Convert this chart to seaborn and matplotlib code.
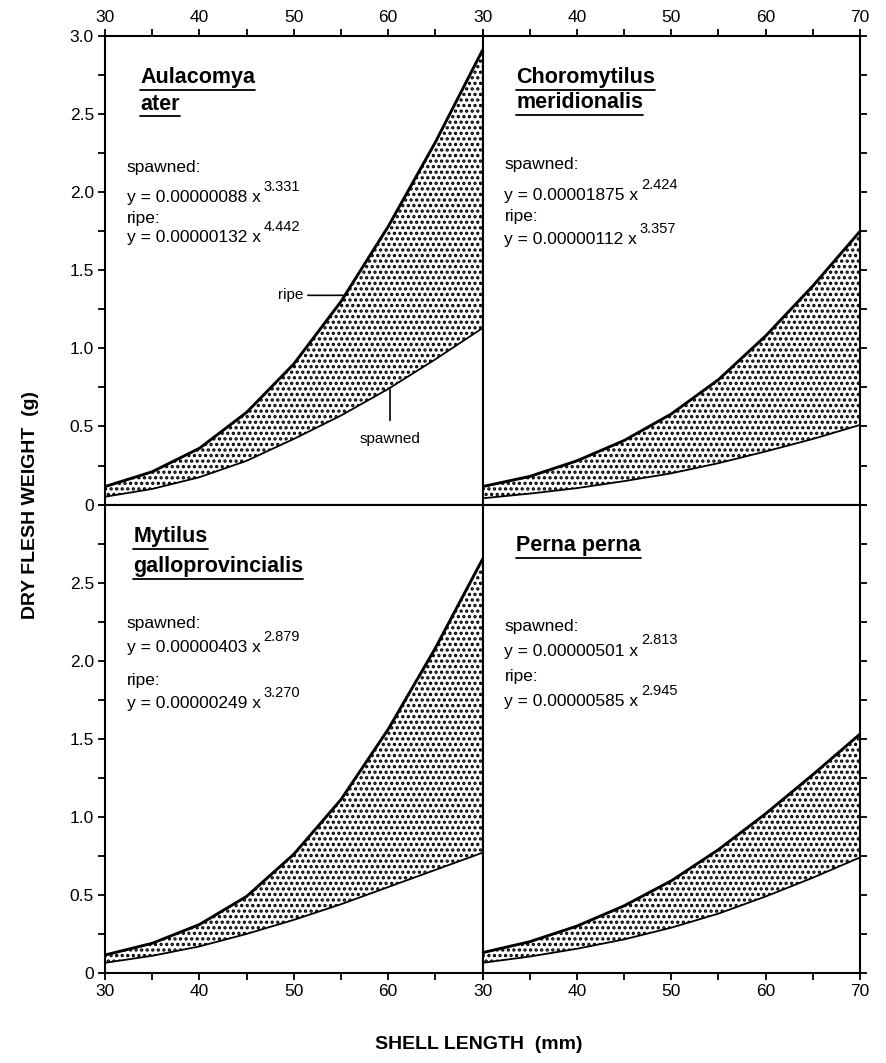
import numpy as np
import pandas as pd
import matplotlib
matplotlib.use('Agg')
import matplotlib.pyplot as plt
import seaborn as sns

# shell length (mm) and dry flesh weight (g)
lengths = [30, 35, 40, 45, 50, 55, 60, 65, 70]

aul_spawned = [0.05, 0.10, 0.175, 0.28, 0.42, 0.57, 0.74, 0.93, 1.13]
aul_ripe = [0.115, 0.21, 0.36, 0.59, 0.90, 1.30, 1.78, 2.32, 2.91]
cho_spawned = [0.04, 0.07, 0.105, 0.15, 0.20, 0.265, 0.34, 0.42, 0.51]
cho_ripe = [0.115, 0.18, 0.28, 0.41, 0.58, 0.80, 1.08, 1.40, 1.75]
myt_spawned = [0.065, 0.11, 0.17, 0.25, 0.34, 0.44, 0.55, 0.66, 0.77]
myt_ripe = [0.115, 0.19, 0.31, 0.49, 0.76, 1.11, 1.56, 2.08, 2.65]
per_spawned = [0.065, 0.105, 0.155, 0.215, 0.29, 0.38, 0.49, 0.61, 0.74]
per_ripe = [0.13, 0.20, 0.30, 0.43, 0.59, 0.79, 1.02, 1.27, 1.53]

titles = [["Aulacomya", "ater"], ["Choromytilus", "meridionalis"],
          ["Mytilus", "galloprovincialis"], ["Perna perna"]]
spawned_eq = [("0.00000088", "3.331"), ("0.00001875", "2.424"),
              ("0.00000403", "2.879"), ("0.00000501", "2.813")]
ripe_eq = [("0.00000132", "4.442"), ("0.00000112", "3.357"),
           ("0.00000249", "3.270"), ("0.00000585", "2.945")]

species = ["Aulacomya ater", "Choromytilus meridionalis",
           "Mytilus galloprovincialis", "Perna perna"]
series = {
    "Aulacomya ater": (aul_spawned, aul_ripe),
    "Choromytilus meridionalis": (cho_spawned, cho_ripe),
    "Mytilus galloprovincialis": (myt_spawned, myt_ripe),
    "Perna perna": (per_spawned, per_ripe),
}

rows = []
for sp in species:
    for state, vals in zip(["spawned", "ripe"], series[sp]):
        for L, w in zip(lengths, vals):
            rows.append({"species": sp, "state": state, "length": L, "weight": w})
df = pd.DataFrame(rows)

sns.set_style("ticks")
plt.rcParams['font.family'] = ['Liberation Sans', 'DejaVu Sans']
plt.rcParams['text.color'] = 'black'
plt.rcParams['axes.labelcolor'] = 'black'
plt.rcParams['hatch.linewidth'] = 1.6
plt.rcParams['hatch.color'] = 'black'

fig, axes = plt.subplots(2, 2, figsize=(8.86, 10.63), dpi=100)
fig.subplots_adjust(left=0.1185, right=0.9707, top=0.966, bottom=0.0847,
                    wspace=0, hspace=0)

xt = list(range(30, 71, 5))
yt = [i * 0.25 for i in range(13)]

eq_texts = []
for k, ax in enumerate(axes.flat):
    sp = species[k]
    d = df[df.species == sp]
    s = d[d.state == "spawned"]
    r = d[d.state == "ripe"]
    ax.fill_between(s.length, s.weight, r.weight.values, facecolor='white',
                    edgecolor='black', hatch='...', linewidth=0, zorder=1)
    sns.lineplot(data=s, x="length", y="weight", ax=ax, color='black', lw=1.3, zorder=3)
    sns.lineplot(data=r, x="length", y="weight", ax=ax, color='black', lw=2.1, zorder=3)

    ax.set_xlim(30, 70)
    ax.set_ylim(0, 3.0)
    ax.set_xlabel("")
    ax.set_ylabel("")
    for sp_ in ax.spines.values():
        sp_.set_linewidth(1.5)
        sp_.set_visible(True)
        sp_.set_color('black')

    row, col = divmod(k, 2)
    xl = [str(v) if v % 10 == 0 else "" for v in xt]
    if col == 0:
        xl[-1] = ""
    yl = []
    for v in yt:
        if abs(v * 2 - round(v * 2)) < 1e-9:
            yl.append("0" if v == 0 else f"{v:.1f}")
        else:
            yl.append("")
    if row == 1:
        yl[-1] = ""
    ax.set_xticks(xt)
    ax.set_xticklabels(xl)
    ax.set_yticks(yt)
    ax.set_yticklabels(yl)
    ax.tick_params(direction='out', length=5, width=1.3, labelsize=12.5,
                   colors='black', pad=3)
    if row == 0:
        ax.tick_params(axis='x', top=True, bottom=True, labeltop=True, labelbottom=False)
    else:
        ax.tick_params(axis='x', top=False, bottom=True, labeltop=False, labelbottom=True)
    if col == 0:
        ax.tick_params(axis='y', left=True, right=False, labelleft=True, labelright=False)
    else:
        ax.tick_params(axis='y', left=False, right=True, labelleft=False, labelright=False)

    # equations
    ey = [0.72, 0.655, 0.61, 0.57] if k == 0 else \
         [0.725, 0.66, 0.615, 0.565] if k == 1 else \
         [0.745, 0.695, 0.625, 0.575] if k == 2 else \
         [0.74, 0.687, 0.632, 0.58]
    ex = 0.058
    a, b = spawned_eq[k]
    ax.text(ex, ey[0], "spawned:", transform=ax.transAxes, fontsize=12.5, va='center')
    t1 = ax.text(ex, ey[1], f"y = {a} x", transform=ax.transAxes, fontsize=12.5, va='center')
    a2, b2 = ripe_eq[k]
    ax.text(ex, ey[2], "ripe:", transform=ax.transAxes, fontsize=12.5, va='center')
    t2 = ax.text(ex, ey[3], f"y = {a2} x", transform=ax.transAxes, fontsize=12.5, va='center')
    eq_texts.append((ax, t1, b))
    eq_texts.append((ax, t2, b2))

fig.canvas.draw()
renderer = fig.canvas.get_renderer()

# exponents as raised smaller text
for ax, t, b in eq_texts:
    bb = t.get_window_extent(renderer).transformed(ax.transAxes.inverted())
    ax.text(bb.x1 + 0.006, bb.y1 + 0.007, b, transform=ax.transAxes,
            fontsize=10.5, va='center', ha='left')

# species names, underlined
title_pos = [(0.094, [0.912, 0.855]), (0.09, [0.912, 0.858]),
             (0.075, [0.932, 0.868]), (0.09, [0.913])]
for k, ax in enumerate(axes.flat):
    tx, tys = title_pos[k]
    for line, ty in zip(titles[k], tys):
        t = ax.text(tx, ty, line, transform=ax.transAxes, fontsize=15.5,
                    fontweight='bold', va='center')
        bb = t.get_window_extent(renderer).transformed(ax.transAxes.inverted())
        uy = bb.y0 - 0.004
        ax.plot([bb.x0, bb.x1], [uy, uy], transform=ax.transAxes, color='black',
                lw=1.3, clip_on=False)

# pointer labels in first panel
ax0 = axes[0, 0]
ax0.annotate("ripe", xy=(55.5, 1.34), xytext=(51.0, 1.34), fontsize=11,
             ha='right', va='center',
             arrowprops=dict(arrowstyle='-', color='black', lw=1.2, shrinkA=1, shrinkB=0))
ax0.annotate("spawned", xy=(60.2, 0.74), xytext=(60.2, 0.42), fontsize=11,
             ha='center', va='center',
             arrowprops=dict(arrowstyle='-', color='black', lw=1.2, shrinkA=6, shrinkB=0))

fig.text(0.034, 0.525, "DRY FLESH WEIGHT  (g)", rotation=90, ha='center', va='center',
         fontsize=14, fontweight='bold')
fig.text(0.54, 0.017, "SHELL LENGTH  (mm)", ha='center', va='center',
         fontsize=14, fontweight='bold')

fig.savefig("out.png", dpi=100)
